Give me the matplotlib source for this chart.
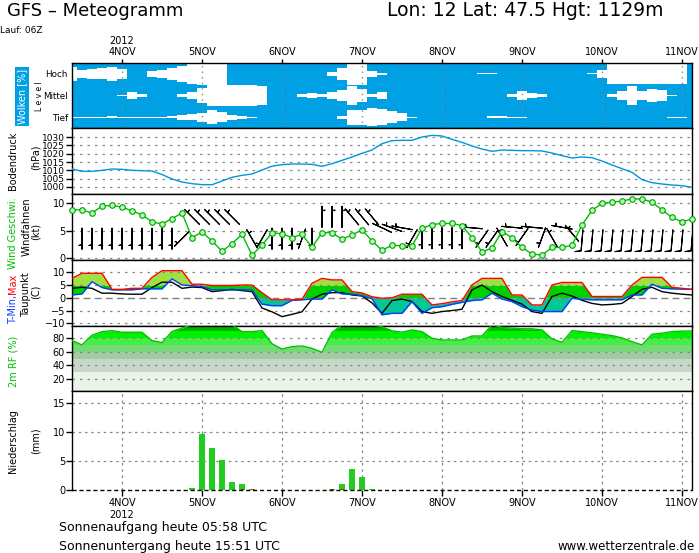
import numpy as np
import matplotlib
matplotlib.use('Agg')
import matplotlib.pyplot as plt

# ---------------- data ----------------
hours = np.arange(-15, 172, 3)          # forecast time, hours after 4 NOV 00 UTC
day_ticks = [0, 24, 48, 72, 96, 120, 144, 168]
day_labels = ['4NOV', '5NOV', '6NOV', '7NOV', '8NOV', '9NOV', '10NOV', '11NOV']
year_label = '2012'

cloud_high = [65, 34, 46, 51, 65, 46, 0, 0, 26, 34, 54, 72, 92, 100, 100, 100, 0, 0, 0, 0,
              0, 0, 0, 0, 0, 0, 18, 54, 100, 100, 30, 8,
              0, 0, 0, 0, 0, 0, 0, 0, 0, 6, 5,
              0, 0, 0, 0, 0, 0, 0, 0, 0,
              6, 35, 92, 92, 97, 92, 92, 92, 92, 92, 0]
cloud_mid = [0, 0, 0, 0, 0, 8, 35, 15, 0, 0, 0, 15, 35, 70, 100, 100, 100, 100, 100, 85,
             0, 0, 0, 10, 23, 15, 35, 52, 92, 60, 15, 32,
             0, 0, 0, 0, 0, 0, 0, 0, 0, 0, 0, 0,
             18, 46, 23, 14, 0, 0, 0, 0, 0, 0,
             17, 42, 85, 45, 63, 54, 5, 0, 0]
cloud_low = [5, 5, 5, 5, 8, 5, 5, 5, 5, 5, 10, 23, 30, 43, 62, 46, 23, 15, 5,
             0, 0, 0, 0, 0, 0, 0, 0,
             15, 70, 70, 82, 72, 54, 38, 5,
             0, 0, 0, 0, 0, 0, 0,
             9, 12, 5, 5,
             0, 0, 0, 0, 0, 0, 0, 0, 0, 0, 0, 0, 0, 0,
             5, 5, 0]

pressure = [1010.8, 1009.4, 1009.4, 1010.0, 1010.8, 1010.6, 1010.0, 1009.8, 1009.6, 1007.5,
            1004.8, 1003.0, 1002.0, 1001.4, 1001.4, 1003.6, 1005.8, 1007.0, 1007.8, 1010.2,
            1012.5, 1013.4, 1013.8, 1013.8, 1013.6, 1012.4, 1014.0, 1016.0,
            1018.0, 1020.2, 1022.2, 1026.0, 1027.8, 1028.0, 1028.0, 1030.0, 1031.0, 1030.6,
            1028.6, 1026.8, 1024.6, 1022.8, 1021.4, 1022.2, 1022.0, 1021.8, 1021.8, 1021.6,
            1020.4, 1018.8, 1017.4, 1018.0, 1017.6, 1015.6, 1013.2, 1011.0, 1008.8, 1004.4,
            1002.6, 1001.8, 1001.2, 1000.8, 999.8]

gust = [8.8, 8.8, 8.2, 9.5, 9.6, 9.3, 8.6, 7.9, 6.6, 6.2, 7.2, 8.2, 3.7, 4.7, 3.1, 1.2,
        2.6, 4.3, 0.5, 2.3, 4.6, 4.4, 3.7, 4.3, 1.9, 4.6, 4.6, 3.4,
        4.2, 5.1, 3.1, 1.4, 2.3, 2.2, 2.2, 5.4, 6.1, 6.3, 6.3, 5.9, 3.7, 1.1, 1.8, 4.8,
        3.7, 1.9, 0.7, 0.5, 1.9, 1.9, 2.3, 6.0, 8.7, 10.0, 10.2, 10.4, 10.8, 10.8, 10.2,
        8.8, 7.4, 6.6, 7.1]

nan = float('nan')
barb_dir = [nan] + [180] * 10 + [225] + [315] * 5 + [nan] + [330, 210] + [180, 180, 180, 200, 180] \
           + [360] * 3 + [320] * 3 + [295, 290, 280] + [210] + [180] * 5 + [275] + [215, 215] \
           + [330, 275, 215, 275] + [200, 330, 280, 320] + [185] * 12
barb_level = [3.5] * 12 + [7.5] * 6 + [3.5] * 7 + [7.5] * 6 + [5.5] * 3 + [3.5] + [3.6] * 5 \
             + [5.5] + [3.5, 3.5] + [3.8, 5.6, 3.8, 5.6] + [3.7, 3.7, 5.6, 4.5] + [3.2] * 12
barb_speed = [5] * 51 + [10] * 12

tmax = [7.6, 9.6, 9.6, 9.6, 3.3, 3.3, 3.7, 3.7, 8.0, 10.6, 10.6, 10.6, 5.3, 5.3, 4.8, 4.8,
        4.8, 5.0, 5.0, 2.0, -0.8, -0.8, -0.8, -0.6, 5.7, 7.6, 7.0, 7.0,
        2.4, 1.9, 0.4, -0.2, 0.0, 1.4, 1.4, 1.4, -2.8, -2.3, -1.6, -1.1, 5.0, 7.6, 7.6, 7.6,
        1.1, 1.1, -2.8, -2.8, 5.0, 6.0, 6.0, 6.0, 0.5, 0.5, 0.5, 0.5, 5.0, 8.0, 8.0, 8.0,
        4.1, 3.7, 3.3]
tmin = [1.1, 1.5, 6.3, 4.0, 3.1, 3.1, 3.1, 3.5, 3.5, 3.5, 7.4, 5.0, 4.7, 4.4, 3.1, 3.1,
        3.1, 3.1, 3.1, -2.5, -3.1, -3.1, -1.0, -0.8, -0.5, -0.5, 3.1, 1.5,
        1.4, 0.8, -0.4, -6.7, -6.1, -6.1, -1.5, -6.1, -3.9, -3.5, -2.6, -1.8, -1.1, -0.8,
        1.8, -0.5, -1.5, -3.5, -4.8, -5.4, -5.4, -5.4, -0.2, -0.6, -0.8, -0.8, -0.8, -0.8,
        1.1, 1.1, 5.3, 3.7, 3.5, 3.4, 3.3]
dewpoint = [3.7, 4.1, 3.7, 1.8, 1.8, 1.5, 1.4, 1.4, 4.0, 6.1, 6.1, 3.7, 4.2, 4.0, 2.4, 2.8,
            3.3, 2.8, 2.4, -4.0, -5.5, -7.4, -6.5, -5.5, -0.5, 1.4, 2.0, 2.0,
            1.1, 0.7, -2.0, -6.1, -1.1, -0.5, -1.5, -5.4, -6.1, -5.4, -5.0, -4.5, 3.1, 5.0,
            2.4, 0.5, -1.0, -2.5, -5.4, -6.1, 0.5, 1.8, 0.7, -1.0, -2.2, -2.8, -2.6, -2.2,
            0.5, 3.3, 4.1, 2.4, 1.8, 1.4, 1.1]

rh = [76.6, 70.2, 84.5, 89.8, 91.3, 88.9, 88.9, 88.9, 76.6, 73.6, 90, 95, 100, 100, 100, 100,
      100, 89.8, 89.8, 91.3, 72, 64, 67.7, 68.7, 65.2, 59.3, 88.4, 100,
      100, 100, 100, 97, 91, 88.9, 92.3, 89.8, 80, 77.5, 77.5, 77.5, 83.4, 83.4, 100, 96,
      95, 94, 94, 92.3, 79, 74, 91.3, 89.8, 88, 86, 84, 80.5, 75, 70.2, 86, 87.5, 89.8,
      90.5, 90.8]

precip_hours = [21, 24, 27, 30, 33, 36, 39, 63, 66, 69, 72, 75]
precip = [0.35, 9.65, 7.24, 5.17, 1.38, 1.03, 0.17, 0.17, 1.03, 3.62, 2.24, 0.17]
conv_hours = [36, 39, 63, 66]
conv = [0.12, 0.12, 0.12, 0.12]

# ---------------- figure ----------------
W, H = 699, 553
fig = plt.figure(figsize=(W / 100, H / 100), dpi=100)


def rect(top, bottom):
    return [72 / W, 1 - bottom / H, 620 / W, (bottom - top) / H]


def fxy(x, y):
    return x / W, 1 - y / H


axc = fig.add_axes(rect(63, 128))
axp = fig.add_axes(rect(128, 194))
axw = fig.add_axes(rect(194, 260))
axt = fig.add_axes(rect(260, 326))
axh = fig.add_axes(rect(326, 391))
axr = fig.add_axes(rect(391, 490))
axes = [axc, axp, axw, axt, axh, axr]

XMIN, XMAX = -15, 171
GRID = dict(color='#888888', lw=0.9, ls=(0, (2, 4)), zorder=2)
for ax in axes:
    ax.set_xlim(XMIN, XMAX)
    for s in ax.spines.values():
        s.set_linewidth(1.0)
    ax.set_xticks(day_ticks)
    ax.tick_params(axis='x', length=0, labelbottom=False)
    ax.tick_params(axis='y', direction='out', length=4, width=1, labelsize=7, pad=1)

# clouds
BLUE = '#00A0E4'
axc.set_facecolor(BLUE)
axc.set_ylim(0, 3)
for center, cover in [(2.5, cloud_high), (1.5, cloud_mid), (0.5, cloud_low)]:
    c = np.array(cover) / 100 * 0.5
    axc.fill_between(hours, center - c, center + c, step='mid', color='white', lw=0, zorder=1)
for d in day_ticks:
    axc.axvline(d, color='#888888', lw=1, ls=(0, (1, 3)), zorder=2)
axc.set_yticks([2.5, 1.5, 0.5])
axc.set_yticklabels(['Hoch', 'Mittel', 'Tief'])
axc.tick_params(axis='y', length=0, pad=3, labelsize=6.3)
axc.xaxis.tick_top()
axc.set_xticks(day_ticks)
axc.set_xticklabels([year_label + '\n' + day_labels[0]] + day_labels[1:])
axc.tick_params(axis='x', top=True, length=3, width=1, direction='out', labeltop=True,
                labelsize=7, pad=1)

# pressure
axp.set_ylim(995.8, 1035.4)
ptk = [1000, 1005, 1010, 1015, 1020, 1025, 1030]
axp.set_yticks(ptk)
axp.tick_params(axis='y', labelsize=6.5)
for v in ptk:
    axp.axhline(v, **GRID)
axp.plot(hours, pressure, color='#0096DC', lw=1, zorder=3)

# wind
axw.set_ylim(-0.4, 11.7)
axw.set_yticks([0, 5, 10])
for v in [0, 5, 10]:
    axw.axhline(v, **GRID)
axw.plot(hours, gust, color='#00C000', lw=1, marker='o', ms=4, mfc='#B0FFB0', mec='#00A000',
         mew=0.8, zorder=4, clip_on=False)
bd = np.array(barb_dir, dtype=float)
ok = ~np.isnan(bd)
rad = np.radians(bd[ok])
spd = np.array(barb_speed, dtype=float)[ok]
u = -spd * np.sin(rad)
v = -spd * np.cos(rad)
axw.barbs(hours[ok], np.array(barb_level)[ok], u, v, length=5.5, pivot='middle',
          sizes=dict(height=0.28, width=0.12, spacing=0.14),
          color='black', linewidth=0.8, zorder=3)

# temperature
axt.set_ylim(-11.06, 14.8)
axt.set_yticks([-10, -5, 0, 5, 10])
for v in [-10, -5, 5, 10]:
    axt.axhline(v, **GRID)
axt.axhline(0, color='#808080', lw=1, ls=(0, (5, 3)), zorder=2)
hf = np.linspace(XMIN, XMAX, 2000)
tn = np.interp(hf, hours, tmin)
tx = np.interp(hf, hours, tmax)
for lo, hi, col in [(-50, 0, '#00C896'), (0, 5, '#00D000'), (5, 50, '#A0E040')]:
    axt.fill_between(hf, np.clip(tn, lo, hi), np.clip(tx, lo, hi), color=col, lw=0, zorder=1)
axt.plot(hours, dewpoint, color='black', lw=1, zorder=3)
axt.plot(hours, tmin, color='#0040FF', lw=1, zorder=4)
axt.plot(hours, tmax, color='#FF0000', lw=1, zorder=4)

# humidity
axh.set_ylim(2.3, 98.1)
axh.set_yticks([20, 40, 60, 80])
bands = [(0, 30, '#EAF4EA'), (30, 50, '#C8D8C8'), (50, 60, '#A0CCA0'), (60, 70, '#77D877'),
         (70, 80, '#44EE44'), (80, 90, '#00F000'), (90, 110, '#00B400')]
for lo, hi, col in bands:
    axh.axhspan(lo, hi, color=col, lw=0, zorder=0.5)
axh.fill_between(hours, rh, 110, color='white', lw=0, zorder=1)
for v in [20, 40, 60, 80]:
    axh.axhline(v, **GRID)
axh.plot(hours, rh, color='#00C000', lw=1, zorder=3)

# precipitation
axr.set_ylim(0, 17.07)
axr.set_yticks([0, 5, 10, 15])
for v in [5, 10, 15]:
    axr.axhline(v, color='#888888', lw=0.9, ls=(0, (2, 3)), zorder=1)
for d in day_ticks:
    axr.axvline(d, color='#888888', lw=0.9, ls=(0, (2, 3)), zorder=1)
axr.bar(precip_hours, precip, width=1.8, color='#22CC22', zorder=2)
axr.bar(conv_hours, conv, width=0.9, color='red', zorder=3)
axr.spines['bottom'].set_visible(False)
axr.axhline(0, color='black', lw=1, ls=(0, (3, 2)), clip_on=False, zorder=4)
axr.set_xticklabels([day_labels[0] + '\n' + year_label] + day_labels[1:])
axr.tick_params(axis='x', bottom=True, length=4, width=1, direction='out', labelbottom=True,
                labelsize=7, pad=2)

# ---------------- texts ----------------
fig.text(*fxy(7, 16), 'GFS – Meteogramm', fontsize=13, va='baseline')
fig.text(*fxy(387, 16), 'Lon: 12 Lat: 47.5 Hgt: 1129m', fontsize=13.5, va='baseline')
fig.text(*fxy(0, 33), 'Lauf: 06Z', fontsize=6.5, va='baseline')

rot = dict(rotation=90, ha='center', va='center', fontsize=7)
fig.text(*fxy(22, 96.5), 'Wolken [%]', color='white',
         bbox=dict(facecolor=BLUE, edgecolor='none', pad=1.2), **rot)
fig.text(*fxy(39, 96), 'L e v e l', **dict(rot, fontsize=5.5))
fig.text(*fxy(13, 161), 'Bodendruck', **rot)
fig.text(*fxy(35.5, 157), '(hPa)', **rot)
fig.text(*fxy(13, 233), 'Wind Geschwi.', color='#00C000', **rot)
fig.text(*fxy(27, 227), 'Windfahnen', **rot)
fig.text(*fxy(35.5, 231), '(kt)', **rot)
fig.text(*fxy(13, 309), 'T-Min,', color='#0040FF', **rot)
fig.text(*fxy(13, 284), 'Max', color='#FF0000', **rot)
fig.text(*fxy(26, 295), 'Taupunkt', **rot)
fig.text(*fxy(36, 292), '(C)', **rot)
fig.text(*fxy(13, 361), '2m RF (%)', color='#00C000', **rot)
fig.text(*fxy(13, 441), 'Niederschlag', **rot)
fig.text(*fxy(35.5, 441), '(mm)', **rot)

fig.text(*fxy(59, 531), 'Sonnenaufgang heute 05:58 UTC', fontsize=9, va='baseline')
fig.text(*fxy(59, 550), 'Sonnenuntergang heute 15:51 UTC', fontsize=9, va='baseline')
fig.text(*fxy(557, 550), 'www.wetterzentrale.de', fontsize=8.5, va='baseline')

fig.savefig('out.png', dpi=100)
